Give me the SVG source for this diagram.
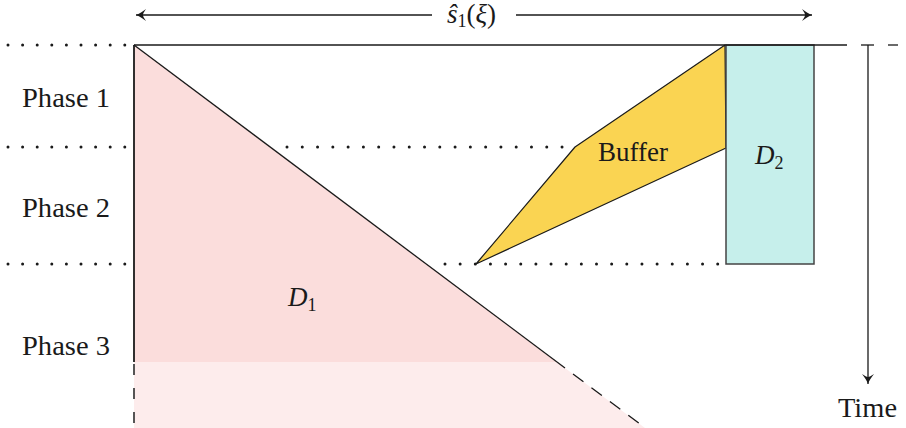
<svg xmlns="http://www.w3.org/2000/svg" width="906" height="428" viewBox="0 0 906 428">
<style>
.t{font-family:"Liberation Serif","Times New Roman",serif;font-size:27px;fill:#1a1a1a}
.i{font-style:italic}
.dot{stroke:#1a1a1a;stroke-width:3;stroke-linecap:round;fill:none}
.ln{stroke:#1a1a1a;stroke-width:1.3;fill:none}
</style>
<defs>
<marker id="ah" viewBox="-12 -7 14 14" refX="0" refY="0" markerWidth="14" markerHeight="14" markerUnits="userSpaceOnUse" orient="auto-start-reverse">
<path d="M0 0 C-3 -1 -7 -3.5 -10 -6 C-8 -3 -7 -1.5 -7 0 C-7 1.5 -8 3 -10 6 C-7 3.5 -3 1 0 0 Z" fill="#1a1a1a"/>
</marker>
</defs>
<g id="regions">
<polygon id="D1" points="134,45 557,362 134,362" fill="#FBDDDC"/>
<polygon id="D1-future" points="134,362 557,362 645,428 134,428" fill="#FDECEC"/>
<polygon id="buffer" points="725,45 575,147 476,264 726,148" fill="#FAD452" stroke="#1a1a1a" stroke-width="1.2" stroke-linejoin="round"/>
<rect id="D2" x="726" y="45" width="88" height="219" fill="#C6EFEB" stroke="#444" stroke-width="1.5"/>
</g>
<g id="connectors">
<line class="dot" x1="8" y1="45" x2="125" y2="45" stroke-dasharray="0 14.6"/>
<line class="dot" x1="8" y1="147" x2="125" y2="147" stroke-dasharray="0 14.6"/>
<line class="dot" x1="287" y1="147" x2="563" y2="147" stroke-dasharray="0 15.28"/>
<line class="dot" x1="8" y1="264" x2="125" y2="264" stroke-dasharray="0 14.6"/>
<line class="dot" x1="445" y1="264" x2="718" y2="264" stroke-dasharray="0 15.15"/>
<line class="ln" x1="134" y1="45" x2="847" y2="45"/>
<line class="ln" x1="861" y1="45" x2="874" y2="45"/>
<line class="ln" x1="888" y1="45" x2="898" y2="45"/>
<line x1="134" y1="45" x2="134" y2="362" stroke="#1a1a1a" stroke-width="1.8"/>
<line x1="134" y1="364" x2="134" y2="428" stroke="#444" stroke-width="1.8" stroke-dasharray="11 13"/>
<line class="ln" x1="134" y1="45" x2="565" y2="368"/>
<line class="ln" x1="565" y1="368" x2="640" y2="424" stroke-dasharray="13 10" stroke-dashoffset="-10"/>
<line class="ln" x1="136" y1="15" x2="432" y2="15" marker-start="url(#ah)"/>
<line class="ln" x1="516" y1="15" x2="812" y2="15" marker-end="url(#ah)"/>
<line class="ln" x1="868" y1="45" x2="868" y2="384" marker-end="url(#ah)"/>
</g>
<g id="labels">
<text class="t" x="22" y="107" textLength="88" lengthAdjust="spacingAndGlyphs">Phase 1</text>
<text class="t" x="22" y="217" textLength="88" lengthAdjust="spacingAndGlyphs">Phase 2</text>
<text class="t" x="22" y="355" textLength="88" lengthAdjust="spacingAndGlyphs">Phase 3</text>
<text class="t" x="838" y="417" textLength="59" lengthAdjust="spacingAndGlyphs">Time</text>
<text class="t" x="598" y="161">Buffer</text>
<text class="t" x="755" y="164"><tspan class="i">D</tspan><tspan font-size="18" dy="5">2</tspan></text>
<text class="t" x="288" y="306"><tspan class="i">D</tspan><tspan font-size="18" dy="5">1</tspan></text>
<text class="t" x="447" y="23" font-size="26"><tspan class="i">ŝ</tspan><tspan font-size="18" dy="4">1</tspan><tspan dy="-4">(</tspan><tspan class="i">ξ</tspan>)</text>
</g>
</svg>
